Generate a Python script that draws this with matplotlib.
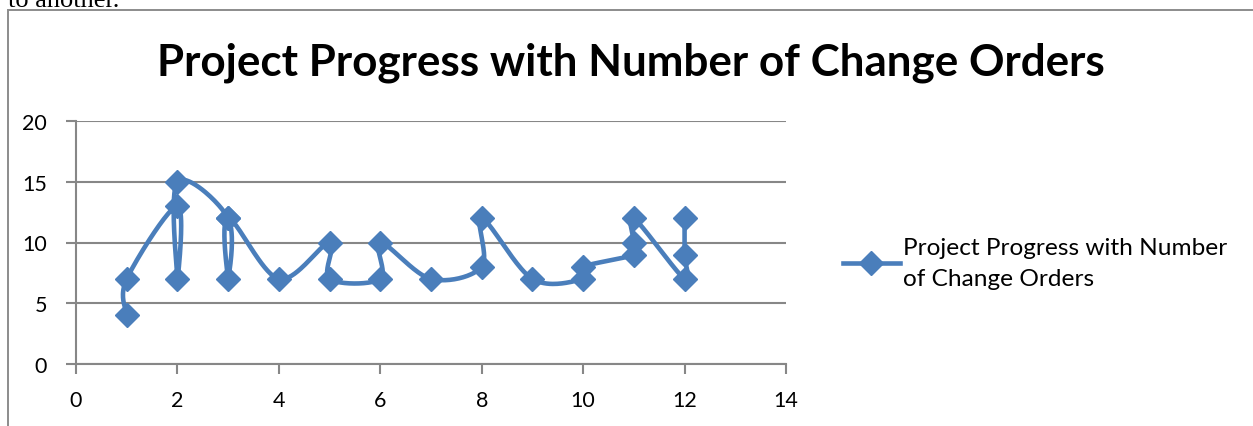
import numpy as np
import matplotlib
matplotlib.use("Agg")
import matplotlib.pyplot as plt
from matplotlib.lines import Line2D

# Project month vs. number of change orders, in the order recorded
month = [1, 1, 2, 2, 2, 3, 3, 3, 4, 5, 5, 6, 6, 7, 8, 8, 9, 10, 10, 11, 11, 11, 12, 12, 12]
change_orders = [4, 7, 13, 7, 15, 12, 7, 12, 7, 10, 7, 7, 10, 7, 8, 12, 7, 7, 8, 9, 10, 12, 7, 9, 12]

series_name = "Project Progress with Number\nof Change Orders"
chart_title = "Project Progress with Number of Change Orders"
x_ticks = [0, 2, 4, 6, 8, 10, 12, 14]
y_ticks = [0, 5, 10, 15, 20]

BLUE = "#4A7EBB"
GRID = "#878787"
FONT = "Lato"

W, H = 1253, 427
fig = plt.figure(figsize=(W / 100, H / 100), dpi=100)

# surrounding page text and chart frame
fig.text(8 / W, 1 - 7 / H, "to another.", family="Liberation Serif", fontsize=19,
         ha="left", va="baseline", color="black")
frame = plt.Rectangle((7.5 / W, -0.1), 1.2, 1 - 10.5 / H + 0.1, transform=fig.transFigure,
                      fill=False, edgecolor="#8c8c8c", linewidth=1.4)
fig.add_artist(frame)

fig.text(631 / W, 1 - 63 / H, chart_title, family=FONT, fontweight="bold",
         fontsize=31.7, ha="center", va="center", color="black")

ax = fig.add_axes([76 / W, (H - 365) / H, (786 - 76) / W, (365 - 122) / H])
ax.set_xlim(0, 14)
ax.set_ylim(0, 20)
ax.set_xticks(x_ticks)
ax.set_yticks(y_ticks)
ax.set_xticklabels([str(v) for v in x_ticks], family=FONT, fontsize=15.5)
ax.set_yticklabels([str(v) for v in y_ticks], family=FONT, fontsize=15.5)
for s in ("top", "right"):
    ax.spines[s].set_visible(False)
for s in ("left", "bottom"):
    ax.spines[s].set_color(GRID)
    ax.spines[s].set_linewidth(1.5)
ax.tick_params(axis="both", direction="out", length=7, width=1.5, color=GRID,
               labelcolor="black")
ax.tick_params(axis="x", pad=12)
ax.tick_params(axis="y", pad=14)
ax.yaxis.grid(True, color=GRID, linewidth=1.5)
ax.set_axisbelow(True)


def smooth_path(xs, ys, n=40):
    """Cardinal-style Bezier smoothing computed in screen space."""
    pts = ax.transData.transform(np.column_stack([xs, ys]))
    out = []
    m = len(pts)
    for i in range(m - 1):
        p0 = pts[max(i - 1, 0)]
        p1 = pts[i]
        p2 = pts[i + 1]
        p3 = pts[min(i + 2, m - 1)]
        c1 = p1 + (p2 - p0) / 6.0
        c2 = p2 - (p3 - p1) / 6.0
        t = np.linspace(0, 1, n)[:, None]
        seg = ((1 - t) ** 3) * p1 + 3 * ((1 - t) ** 2) * t * c1 + 3 * (1 - t) * t ** 2 * c2 + t ** 3 * p2
        out.append(seg if i == 0 else seg[1:])
    curve = np.vstack(out)
    return ax.transData.inverted().transform(curve)


curve = smooth_path(month, change_orders)
ax.plot(curve[:, 0], curve[:, 1], color=BLUE, linewidth=3.3, solid_capstyle="round",
        solid_joinstyle="round", zorder=3, clip_on=False)
ax.plot(month, change_orders, linestyle="none", marker="D", markersize=12.5,
        color=BLUE, zorder=4, clip_on=False)

# legend
handle = Line2D([], [], color=BLUE, linewidth=3.3, marker="D", markersize=12.5)
leg = fig.legend([handle], [series_name], loc="center left",
                 bbox_to_anchor=(843 / W, 1 - 264 / H), frameon=False,
                 prop={"family": FONT, "size": 17.6}, handlelength=2.33,
                 handletextpad=0.12, borderpad=0, borderaxespad=0)
for txt in leg.get_texts():
    txt.set_linespacing(1.6)

fig.savefig("out.png", dpi=100)
